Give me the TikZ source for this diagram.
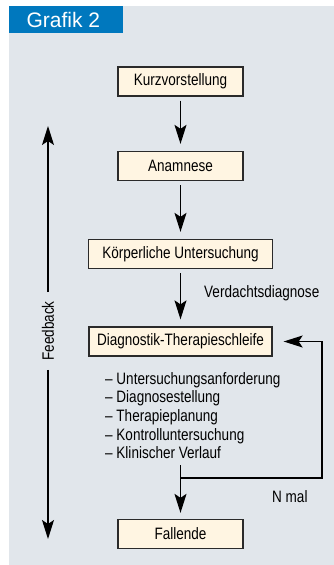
\documentclass[tikz,border=0pt]{standalone}
\usepackage{fontspec}
\setmainfont{Liberation Sans}[FakeStretch=0.82]
\newfontfamily\headfont{Liberation Sans}
\usepackage{xcolor}
\usepackage{tikz}
\usetikzlibrary{arrows.meta, positioning}
\definecolor{panelgray}{HTML}{E1E6EB}
\definecolor{headblue}{HTML}{0078BE}
\definecolor{boxcream}{HTML}{FFF5E2}
\definecolor{boxline}{HTML}{2A2A2A}

\begin{document}
\begin{tikzpicture}[>={Stealth[length=19pt,width=12pt,inset=4pt]}, x=1pt, y=-1pt,
        every node/.style={font=\fontsize{16.5}{18.7}\selectfont},
        box/.style={draw=boxline, line width=1.3pt, fill=boxcream, minimum height=29pt, inner sep=0pt},
        flow/.style={->, line width=1.2pt, shorten <=4pt, shorten >=7pt}]
        \useasboundingbox (0,0) rectangle (334,565);
        \fill[panelgray] (9,6) rectangle (334,565);
        \fill[headblue] (9,6) rectangle (123,33);
        \node[anchor=west, text=white, font=\headfont\fontsize{21}{24}\selectfont] (title) at (23,19.5) {Grafik 2};

        \node[box, minimum width=125pt] (kurz) at (180.5,81.5) {Kurzvorstellung};
        \node[box, minimum width=125pt] (anam) at (180.5,166) {Anamnese};
        \node[box, minimum width=184pt] (koerp) at (180.5,254) {Körperliche Untersuchung};
        \node[box, minimum width=183pt] (diag) at (180.5,341.5) {Diagnostik-Therapieschleife};
        \node[anchor=north west, align=left, inner sep=0pt] (list) at (105,372) {– Untersuchungsanforderung\\– Diagnosestellung\\– Therapieplanung\\– Kontrolluntersuchung\\– Klinischer Verlauf};
        \node[box, minimum width=125pt] (fall) at (180.5,534) {Fallende};
        \node[anchor=west, inner sep=0pt] (verd) at (204,293) {Verdachtsdiagnose};
        \node[anchor=west, inner sep=0pt] (nmal) at (272,497) {N mal};
        \node[rotate=90, inner sep=9pt] (fb) at (48,331) {Feedback};

        \coordinate (fbtop) at (48,126);
        \coordinate (fbbottom) at (48,539);
        \coordinate (loopstart) at (180.5,465);
        \coordinate (branch) at (180.5,478);
        \coordinate (loopcorner) at (322,478);

        \draw[flow] (kurz) -- (anam);
        \draw[flow] (anam) -- (koerp);
        \draw[flow] (koerp) -- (diag);
        \draw[flow, shorten <=0pt, shorten >=6pt] (loopstart) -- (fall);
        \draw[->, line width=1.2pt, shorten >=11pt] (branch) -- (loopcorner) |- (diag.east);

        \draw[->, line width=1.2pt] (fb) -- (fbtop);
        \draw[->, line width=1.2pt] (fb) -- (fbbottom);
    \end{tikzpicture}
\end{document}
